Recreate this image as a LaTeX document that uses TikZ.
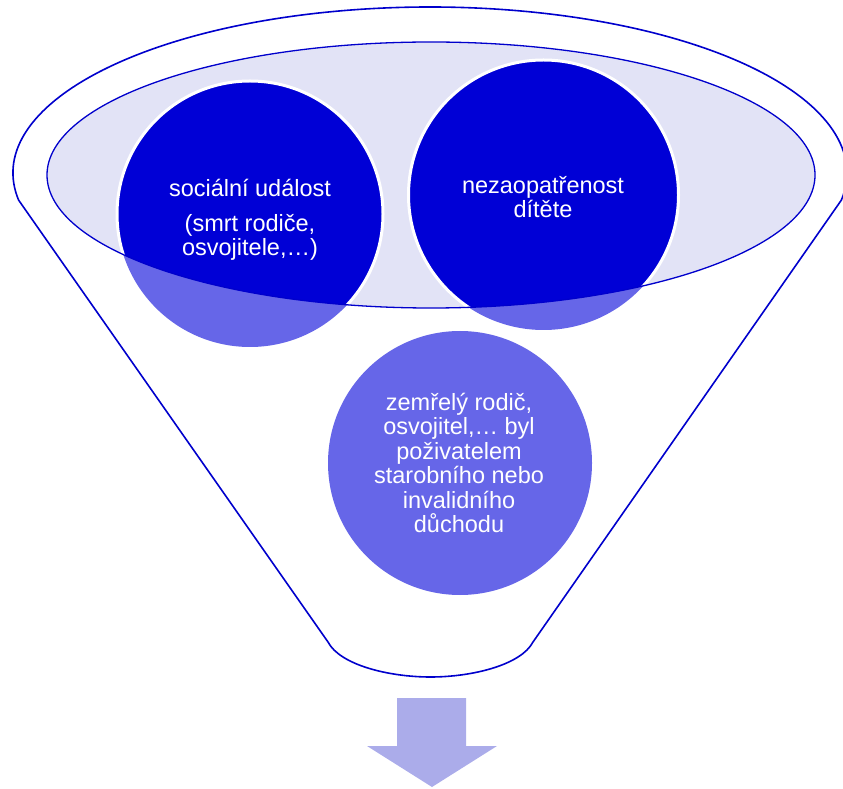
\documentclass[tikz,border=0pt]{standalone}
\usepackage{fontspec}
\setmainfont{Liberation Sans}
\definecolor{outline}{RGB}{0,0,204}
\definecolor{lavender}{RGB}{226,227,246}
\definecolor{darkblue}{RGB}{0,0,214}
\definecolor{midblue}{RGB}{102,102,232}
\definecolor{arrowblue}{RGB}{171,172,234}
\tikzset{
  circletext/.style={text=white, align=center, font=\fontsize{23.5}{24.5}\selectfont, inner sep=0pt},
  funnelline/.style={draw=outline, line width=1.6pt, line join=round},
}
\begin{document}
\begin{tikzpicture}[x=1pt,y=1pt]
\useasboundingbox (0,0) rectangle (843,788);
\clip (0,0) rectangle (843,788);
% inner ellipse fill
\fill[lavender] (431,613) ellipse [x radius=384pt, y radius=133pt];
% circles, light part
\fill[midblue] (250,574) circle [radius=133pt];
\fill[midblue] (543.5,593) circle [radius=135pt];
\fill[midblue] (460,325) circle [radius=132pt];
% dark part inside inner ellipse
\begin{scope}
\clip (431,613) ellipse [x radius=384pt, y radius=133pt];
\filldraw[fill=darkblue, draw=white, line width=3pt] (250,574) circle [radius=133pt];
\filldraw[fill=darkblue, draw=white, line width=3pt] (543.5,593) circle [radius=135pt];
\end{scope}
% inner ellipse outline
\draw[outline, line width=1.3pt] (431,613) ellipse [x radius=384pt, y radius=133pt];
% funnel outline
\coordinate (lj) at (18.6,587.9);
\coordinate (rj) at (841.4,587.9);
\coordinate (lb) at (328,146);
\coordinate (rb) at (533,146);
\coordinate (bot) at (430.5,111);
\draw[funnelline] (lj) arc [start angle=189.4, end angle=-9.4, x radius=417pt, y radius=166pt]
  -- (rb) .. controls (521,123) and (472,111) .. (bot)
  .. controls (389,111) and (340,123) .. (lb) -- cycle;
% arrow
\fill[arrowblue] (397,90) -- (466,90) -- (466,42) -- (497,42) -- (432,1) -- (367,42) -- (397,42) -- cycle;
% texts
\node[circletext] (t1) at (250,568) {sociální událost\\[10pt](smrt rodiče,\\osvojitele,…)};
\node[circletext] (t2) at (543,591) {nezaopatřenost\\dítěte};
\node[circletext] (t3) at (459,325) {zemřelý rodič,\\osvojitel,… byl\\poživatelem\\starobního nebo\\invalidního\\důchodu};
\end{tikzpicture}
\end{document}
